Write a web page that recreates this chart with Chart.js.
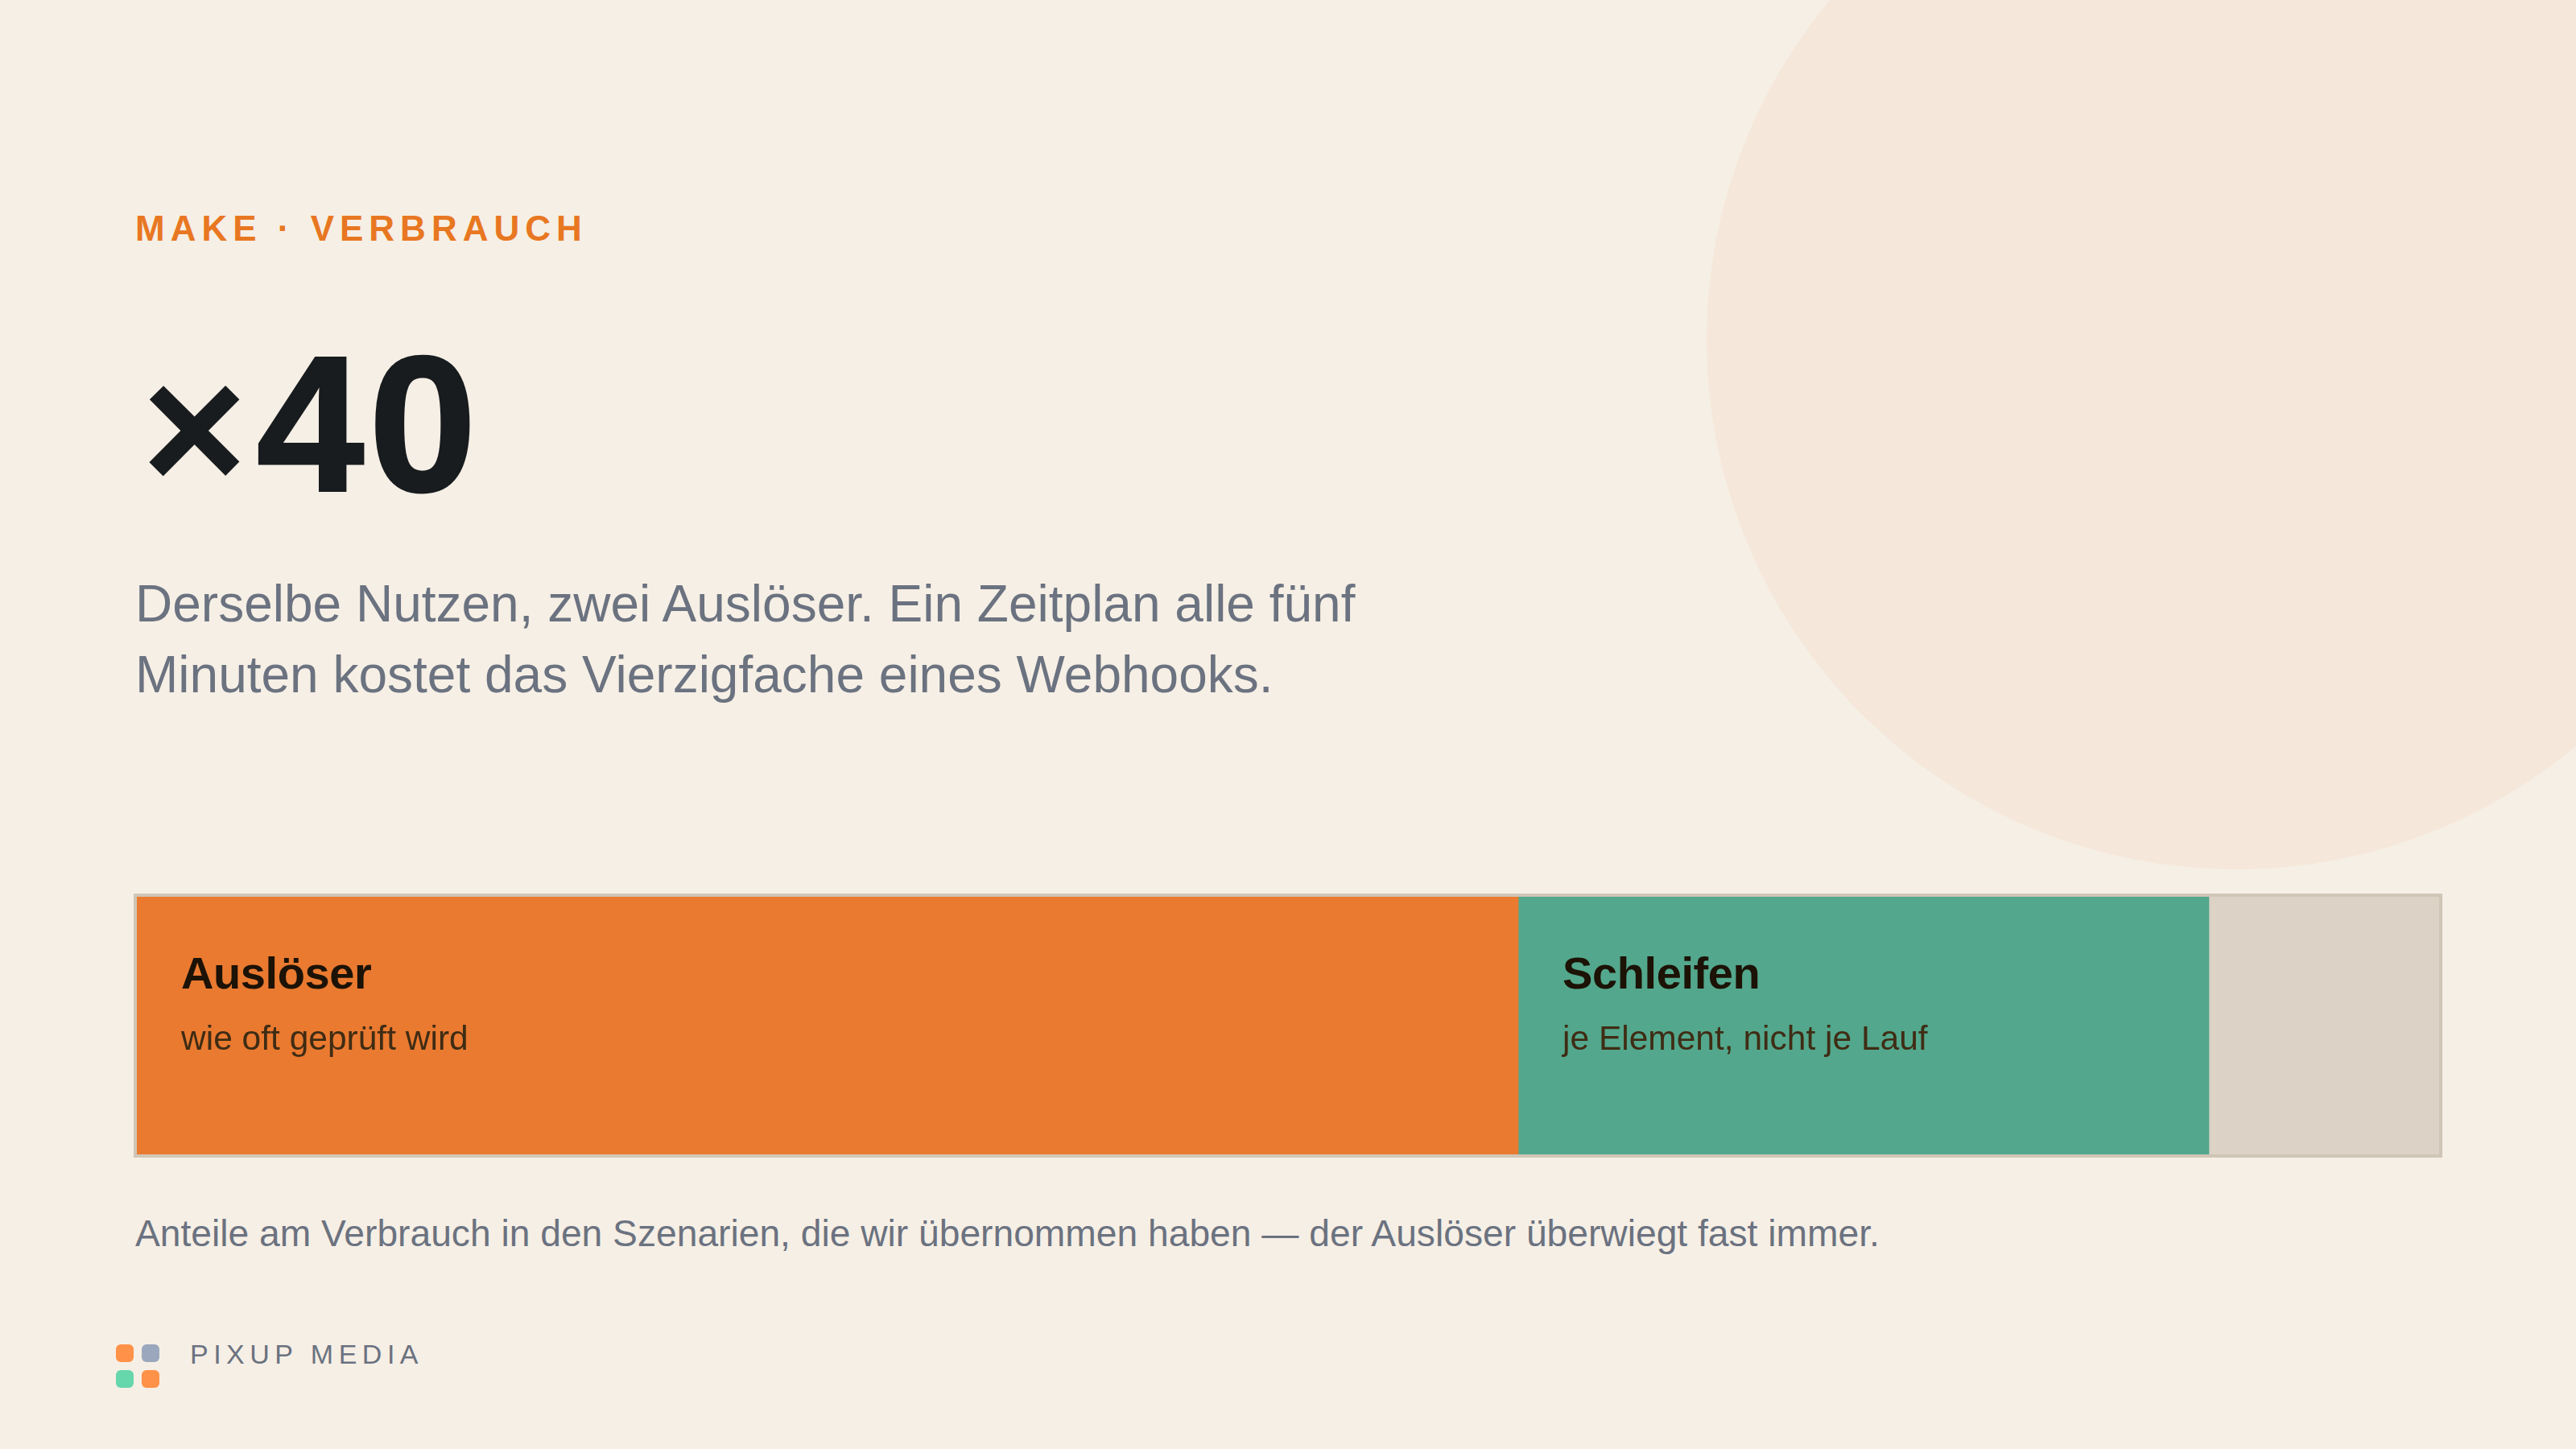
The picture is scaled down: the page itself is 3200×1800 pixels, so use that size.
<!DOCTYPE html>
<html lang="de">
<head>
<meta charset="utf-8">
<title>Make Verbrauch</title>
<script src="https://cdn.jsdelivr.net/npm/chart.js@4"></script>
<style>
  html, body { margin: 0; padding: 0; }
  body {
    width: 3200px; height: 1800px; position: relative; overflow: hidden;
    background: #f6efe5; font-family: "Liberation Sans", Arial, sans-serif;
  }
  .circle { position: absolute; left: 2120px; top: -236px; width: 1316px; height: 1316px; border-radius: 50%; background: #f5e8da; }
  .text { position: absolute; left: 168px; white-space: nowrap; }
  .eyebrow { top: 258px; font-size: 44px; line-height: 52px; font-weight: 700; letter-spacing: 7px; color: #e87722; }
  .big { top: 389px; left: 176px; font-size: 240px; line-height: 276px; font-weight: 700; letter-spacing: 6px; color: #181c1f; -webkit-text-stroke: 3px #181c1f; }
  .big span { font-size: 224px; letter-spacing: 12px; -webkit-text-stroke: 0; }
  .lead { top: 706px; font-size: 64px; line-height: 88px; color: #6b7280; }
  .note { top: 1506px; font-size: 46.2px; line-height: 52px; color: #6b7280; }
  .brand { top: 1662px; left: 236px; font-size: 34px; line-height: 40px; letter-spacing: 6.5px; color: #6b7280; }
  .bar-wrap { position: absolute; left: 166px; top: 1110px; width: 2860px; height: 320px; border: 4px solid #d0c6b6; }
  #bar { display: block; }
  .dot { position: absolute; width: 22px; height: 22px; border-radius: 6px; }
</style>
</head>
<body>
<div class="circle"></div>
<div class="text eyebrow">MAKE · VERBRAUCH</div>
<div class="text big"><span>×</span>40</div>
<div class="text lead">Derselbe Nutzen, zwei Auslöser. Ein Zeitplan alle fünf<br>Minuten kostet das Vierzigfache eines Webhooks.</div>
<div class="bar-wrap"><canvas id="bar" width="2860" height="320"></canvas></div>
<div class="text note">Anteile am Verbrauch in den Szenarien, die wir übernommen haben — der Auslöser überwiegt fast immer.</div>
<div class="dot" style="left:144px;top:1670px;background:#ff9148"></div>
<div class="dot" style="left:176px;top:1670px;background:#9aa7bd"></div>
<div class="dot" style="left:144px;top:1702px;background:#66d6ac"></div>
<div class="dot" style="left:176px;top:1702px;background:#ff9148"></div>
<div class="text brand">PIXUP MEDIA</div>
<script>
const categories = ['Verbrauch'];
const segmentNames = ['Auslöser', 'Schleifen', 'Rest'];
const segmentTitles = ['Auslöser', 'Schleifen', ''];
const segmentNotes = ['wie oft geprüft wird', 'je Element, nicht je Lauf', ''];
const segmentValues = [60, 30, 10];
const segmentColors = ['#e97a30', '#53a78c', '#dcd2c5'];

const segmentText = {
  id: 'segmentText',
  afterDatasetsDraw(chart) {
    const ctx = chart.ctx;
    ctx.save();
    ctx.textBaseline = 'alphabetic';
    ctx.textAlign = 'left';
    chart.data.datasets.forEach((ds, i) => {
      const bar = chart.getDatasetMeta(i).data[0];
      ctx.fillStyle = '#1c1206';
      ctx.font = '700 56px "Liberation Sans"';
      ctx.letterSpacing = '-0.4px';
      ctx.fillText(segmentTitles[i], bar.base + 55, 114);
      ctx.fillStyle = '#3f2c14';
      ctx.font = '400 42.5px "Liberation Sans"';
      ctx.letterSpacing = '0px';
      ctx.fillText(segmentNotes[i], bar.base + 55, 190);
    });
    ctx.restore();
  }
};

new Chart(document.querySelector('#bar'), {
  type: 'bar',
  data: {
    labels: categories,
    datasets: segmentValues.map((v, i) => ({
      label: segmentNames[i],
      data: [v],
      backgroundColor: segmentColors[i],
      borderWidth: 0,
      barPercentage: 1,
      categoryPercentage: 1
    }))
  },
  options: {
    indexAxis: 'y',
    responsive: false,
    animation: false,
    devicePixelRatio: 1,
    layout: { padding: 0 },
    plugins: { legend: { display: false }, tooltip: { enabled: false } },
    scales: {
      x: { stacked: true, min: 0, max: 100, display: false },
      y: { stacked: true, display: false }
    }
  },
  plugins: [segmentText]
});
</script>
</body>
</html>
